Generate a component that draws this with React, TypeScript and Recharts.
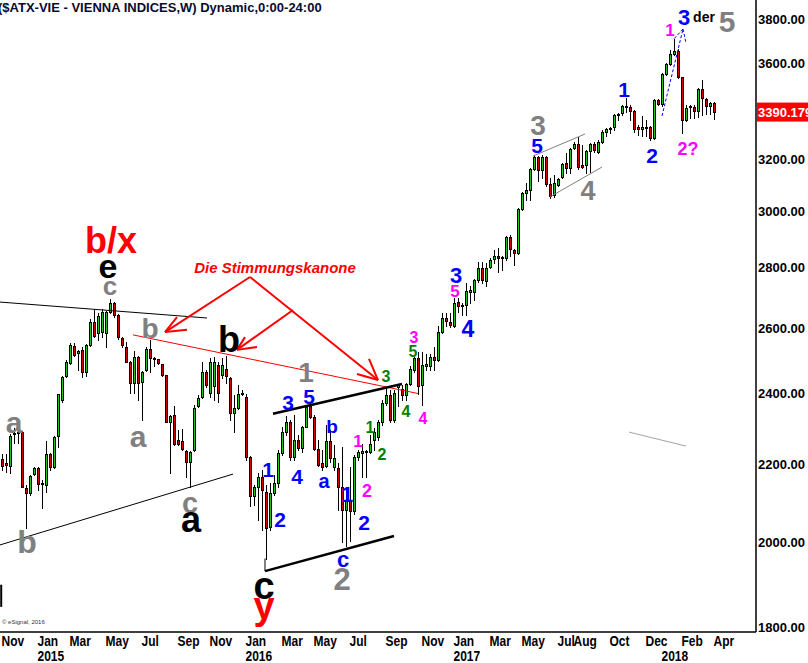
import React from 'react';
import { ComposedChart, Bar, XAxis, YAxis, ReferenceLine, ReferenceDot } from 'recharts';

// weekly candles, Nov 2014 .. Apr 2018
const opens = [
  2215, 2204, 2196, 2284, 2288, 2288, 2137, 2124, 2175, 2190,
  2148, 2145, 2228, 2194, 2278, 2381, 2452, 2492, 2544, 2522,
  2532, 2464, 2547, 2621, 2585, 2589, 2585, 2653, 2683, 2643,
  2569, 2541, 2495, 2431, 2510, 2434, 2470, 2535, 2507, 2504,
  2489, 2455, 2318, 2338, 2267, 2264, 2236, 2207, 2239, 2364,
  2390, 2464, 2402, 2422, 2486, 2455, 2473, 2446, 2343, 2358,
  2398, 2390, 2220, 2117, 2140, 2166, 2127, 2037, 2124, 2150,
  2231, 2288, 2318, 2220, 2267, 2245, 2302, 2364, 2332, 2242,
  2204, 2196, 2264, 2194, 2190, 2140, 2080, 2106, 2077, 2220,
  2231, 2234, 2234, 2267, 2276, 2318, 2372, 2396, 2323, 2420,
  2413, 2396, 2428, 2470, 2507, 2425, 2483, 2483, 2510, 2501,
  2589, 2633, 2621, 2608, 2686, 2672, 2676, 2720, 2720, 2759,
  2800, 2755, 2803, 2831, 2841, 2834, 2834, 2909, 2862, 2852,
  3010, 3070, 3081, 3162, 3209, 3158, 3209, 3104, 3062, 3100,
  3131, 3185, 3166, 3244, 3260, 3177, 3177, 3232, 3260, 3228,
  3268, 3308, 3322, 3328, 3380, 3386, 3410, 3412, 3395, 3328,
  3320, 3326, 3328, 3284, 3441, 3424, 3552, 3596, 3640, 3654,
  3539, 3357, 3410, 3412, 3395, 3488, 3445, 3416, 3428,
];
const highs = [
  2229, 2229, 2284, 2300, 2295, 2292, 2145, 2172, 2193, 2193,
  2158, 2264, 2231, 2278, 2400, 2452, 2501, 2553, 2553, 2532,
  2541, 2550, 2630, 2662, 2649, 2662, 2656, 2696, 2686, 2646,
  2573, 2557, 2498, 2528, 2512, 2467, 2541, 2563, 2509, 2505,
  2490, 2456, 2338, 2364, 2295, 2298, 2239, 2236, 2367, 2396,
  2495, 2470, 2507, 2510, 2495, 2507, 2513, 2448, 2396, 2425,
  2410, 2400, 2222, 2145, 2177, 2185, 2145, 2150, 2172, 2239,
  2302, 2335, 2323, 2338, 2281, 2306, 2367, 2372, 2338, 2267,
  2239, 2309, 2295, 2253, 2204, 2247, 2140, 2194, 2226, 2239,
  2256, 2239, 2281, 2300, 2323, 2381, 2419, 2410, 2410, 2428,
  2425, 2431, 2482, 2510, 2525, 2525, 2519, 2519, 2541, 2608,
  2649, 2649, 2649, 2700, 2700, 2683, 2748, 2737, 2762, 2820,
  2820, 2817, 2834, 2862, 2869, 2841, 2912, 2916, 2864, 3014,
  3074, 3108, 3166, 3216, 3212, 3216, 3212, 3127, 3138, 3127,
  3185, 3224, 3244, 3268, 3288, 3256, 3236, 3262, 3268, 3276,
  3316, 3324, 3328, 3382, 3386, 3420, 3449, 3420, 3399, 3336,
  3374, 3357, 3332, 3445, 3445, 3556, 3601, 3658, 3708, 3663,
  3540, 3420, 3420, 3420, 3492, 3526, 3449, 3432, 3432,
];
const lows = [
  2185, 2180, 2177, 2259, 2259, 2140, 2035, 2120, 2172, 2132,
  2085, 2127, 2185, 2190, 2248, 2375, 2449, 2489, 2513, 2470,
  2449, 2452, 2544, 2573, 2563, 2573, 2541, 2649, 2637, 2566,
  2541, 2495, 2402, 2402, 2381, 2323, 2467, 2464, 2482, 2490,
  2452, 2318, 2177, 2253, 2253, 2239, 2166, 2140, 2236, 2361,
  2387, 2419, 2390, 2381, 2375, 2446, 2431, 2323, 2289, 2355,
  2396, 2212, 2090, 2093, 2055, 2030, 1958, 2030, 2119, 2140,
  2226, 2281, 2212, 2212, 2239, 2234, 2302, 2329, 2239, 2196,
  2185, 2194, 2207, 2185, 2080, 2000, 1990, 2002, 2070, 2212,
  2166, 2166, 2231, 2239, 2267, 2309, 2367, 2318, 2318, 2364,
  2381, 2381, 2425, 2465, 2400, 2367, 2470, 2470, 2470, 2498,
  2585, 2608, 2605, 2605, 2653, 2643, 2643, 2683, 2692, 2752,
  2748, 2738, 2800, 2817, 2786, 2793, 2827, 2841, 2810, 2848,
  3006, 3043, 3043, 3158, 3115, 3127, 3096, 3051, 3055, 3096,
  3127, 3146, 3146, 3240, 3162, 3166, 3146, 3150, 3228, 3224,
  3264, 3292, 3304, 3316, 3357, 3378, 3390, 3357, 3308, 3296,
  3292, 3292, 3276, 3280, 3420, 3416, 3548, 3592, 3636, 3535,
  3304, 3353, 3365, 3365, 3370, 3378, 3382, 3382, 3361,
];
const closes = [
  2196, 2199, 2278, 2286, 2290, 2140, 2124, 2169, 2190, 2148,
  2150, 2228, 2194, 2276, 2399, 2449, 2495, 2547, 2516, 2528,
  2464, 2547, 2621, 2576, 2640, 2653, 2653, 2683, 2643, 2573,
  2547, 2495, 2431, 2510, 2431, 2464, 2535, 2507, 2505, 2492,
  2455, 2318, 2335, 2256, 2256, 2242, 2207, 2234, 2358, 2387,
  2464, 2425, 2495, 2495, 2402, 2486, 2452, 2343, 2358, 2400,
  2402, 2220, 2117, 2140, 2166, 2132, 2035, 2124, 2150, 2231,
  2288, 2318, 2220, 2267, 2245, 2302, 2361, 2332, 2242, 2199,
  2194, 2264, 2217, 2217, 2140, 2080, 2106, 2077, 2220, 2234,
  2236, 2236, 2256, 2288, 2318, 2372, 2396, 2323, 2402, 2425,
  2396, 2428, 2473, 2507, 2422, 2486, 2489, 2510, 2501, 2589,
  2633, 2624, 2611, 2683, 2672, 2676, 2722, 2725, 2759, 2800,
  2759, 2800, 2827, 2841, 2834, 2836, 2909, 2866, 2852, 3010,
  3070, 3081, 3162, 3209, 3158, 3209, 3104, 3058, 3108, 3123,
  3181, 3166, 3240, 3260, 3170, 3170, 3232, 3260, 3236, 3268,
  3308, 3320, 3326, 3378, 3384, 3416, 3414, 3395, 3320, 3320,
  3328, 3330, 3284, 3441, 3424, 3552, 3596, 3640, 3654, 3539,
  3357, 3407, 3414, 3395, 3488, 3449, 3416, 3428, 3390.179,
];

const monthTicks = [0, 9, 17, 26, 35, 44, 52, 61, 70, 78, 87, 96, 105, 113, 122, 130, 139, 143, 152, 161, 170, 178];
const monthNames = ['Nov', 'Jan', 'Mar', 'May', 'Jul', 'Sep', 'Nov', 'Jan', 'Mar', 'May', 'Jul', 'Sep', 'Nov', 'Jan', 'Mar', 'May', 'Jul', 'Aug', 'Oct', 'Dec', 'Feb', 'Apr'];
const yearTicks = [9, 61, 113, 165];
const yearNames = ['2015', '2016', '2017', '2018'];
const priceTicks = [1800, 2000, 2200, 2400, 2600, 2800, 3000, 3200, 3600, 3800];
const lastPrice = 3390.179;

const SLOTS = 189; // weeks shown on the time axis (incl. empty space on the right)

const RED = '#ff0000';
const BLUE = '#0000ff';
const PINK = '#ff00ff';
const GRAY = '#808080';
const GREEN = '#008000';
const BLACK = '#000000';
const FONT = '"Liberation Sans", Arial, sans-serif';

// wave labels: text, week, price (baseline), colour, size
const waveLabels: [string, number, number, string, number][] = [
  ['b/x', 27.25, 2852, RED, 36],
  ['e', 26.5, 2766, BLACK, 34],
  ['c', 27, 2709, GRAY, 26],
  ['b', 37, 2568, GRAY, 28],
  ['b', 56.75, 2525, BLACK, 36],
  ['a', 3, 2287, GRAY, 30],
  ['a', 34, 2248, GRAY, 30],
  ['b', 6.25, 1974, GRAY, 32],
  ['c', 47, 2073, GRAY, 29],
  ['a', 47.25, 2025, BLACK, 36],
  ['c', 65.5, 1865, BLACK, 38],
  ['y', 65.5, 1820, RED, 38],
  ['1', 76, 2434, GRAY, 28],
  ['2', 85, 1886, GRAY, 31],
  ['c', 85.25, 1940, BLUE, 22],
  ['3', 71.5, 2352, BLUE, 21],
  ['5', 76.75, 2370, BLUE, 21],
  ['b', 82.5, 2287, BLUE, 19],
  ['4', 73.75, 2148, BLUE, 21],
  ['a', 80.5, 2137, BLUE, 20],
  ['1', 66.5, 2166, BLUE, 21],
  ['2', 69.5, 2037, BLUE, 21],
  ['1', 86.25, 2101, BLUE, 22],
  ['2', 90.5, 2030, BLUE, 21],
  ['1', 89, 2248, PINK, 17],
  ['1', 92, 2287, GREEN, 16],
  ['2', 95, 2212, GREEN, 16],
  ['2', 91.25, 2114, PINK, 18],
  ['3', 96, 2434, GREEN, 16],
  ['5', 102.75, 2510, GREEN, 16],
  ['3', 103, 2553, PINK, 16],
  ['4', 101, 2332, GREEN, 16],
  ['4', 105.25, 2312, PINK, 16],
  ['3', 113.5, 2749, BLUE, 22],
  ['5', 113.25, 2702, PINK, 17],
  ['4', 116.5, 2572, BLUE, 23],
  ['3', 134, 3296, GRAY, 28],
  ['5', 133.75, 3224, BLUE, 21],
  ['4', 146.5, 3043, GRAY, 27],
  ['1', 155.5, 3453, BLUE, 21],
  ['2', 162.5, 3185, BLUE, 21],
  ['1', 167, 3722, PINK, 17],
  ['3', 170.5, 3772, BLUE, 22],
  ['der', 175.5, 3786, BLACK, 14],
  ['5', 181.25, 3740, GRAY, 30],
  ['2?', 171.5, 3216, PINK, 18],
];

// drawn lines: [week, price] -> [week, price], colour, width, dash
const drawings: [number, number, number, number, string, number, string?][] = [
  [-0.5, 2685, 51.25, 2633, BLACK, 1],
  [-0.5, 1993, 57.75, 2174, BLACK, 1],
  [32.75, 2579, 104, 2400, RED, 1],
  [67.75, 2341, 100, 2428, BLACK, 2.5],
  [65.75, 1960, 65.75, 1930, BLACK, 1],
  [65.75, 1930, 98, 2015, BLACK, 2.5],
  [132.75, 3212, 145.75, 3300, GRAY, 1],
  [137, 3055, 150, 3169, GRAY, 1],
  [156.75, 2289, 171, 2250, '#a8a0b0', 1],
  [165, 3374, 170.25, 3754, BLUE, 1, '3 2'],
  [170.25, 3754, 167.75, 3704, BLUE, 1, '3 2'],
  [170.25, 3754, 171, 3690, BLUE, 1, '3 2'],
  [62, 2769, 40.75, 2588, RED, 2],
  [40.75, 2588, 43.75, 2636, RED, 2],
  [40.75, 2588, 46.25, 2595, RED, 2],
  [62, 2769, 94, 2440, RED, 2],
  [72.75, 2659, 58.75, 2532, RED, 2],
  [58.75, 2532, 60.75, 2572, RED, 2],
  [58.75, 2532, 63.75, 2541, RED, 2],
  [94, 2440, 91.75, 2504, RED, 2],
  [94, 2440, 88.75, 2458, RED, 2],
  [-0.2, 1898, -0.2, 1847, BLACK, 2],
];

const rows = Array.from({ length: SLOTS }, (_, i) =>
  i < opens.length
    ? { i, o: opens[i], h: highs[i], l: lows[i], c: closes[i], range: [lows[i], highs[i]] }
    : { i, range: null }
);

const Candle = (props: any) => {
  const { x, y, width, height, payload } = props;
  if (!payload || payload.h == null || height == null) return null;
  const top = Math.min(y, y + height);
  const bot = Math.max(y, y + height);
  const lh = Math.log(payload.h);
  const span = lh - Math.log(payload.l) || 1;
  const py = (v: number) => top + ((lh - Math.log(v)) / span) * (bot - top);
  const left = Math.floor(x + width / 2 - 1.5);
  const b1 = Math.round(Math.min(py(payload.o), py(payload.c)));
  const b2 = Math.round(Math.max(py(payload.o), py(payload.c)));
  const up = payload.c >= payload.o;
  return (
    <g>
      <line x1={left + 1.5} x2={left + 1.5} y1={Math.round(top)} y2={Math.round(bot) + 1} stroke="#000" strokeWidth={1} />
      <rect x={left + 0.5} y={b1 + 0.5} width={2} height={Math.max(b2 - b1, 1)} fill={up ? '#22c322' : '#d00000'} stroke="#000" strokeWidth={1} />
    </g>
  );
};

// condensed bold labels (no narrow font installed, so squeeze horizontally)
const NarrowText = ({ x, y, children }: any) => (
  <text transform={`translate(${x},${y}) scale(0.8,1)`} textAnchor="start" fontFamily={FONT} fontWeight="bold" fontSize={15} fill="#000">
    {children}
  </text>
);

const TimeTick = (props: any) => {
  const { x, y, payload } = props;
  const m = monthTicks.indexOf(payload.value);
  const yr = yearTicks.indexOf(payload.value);
  return (
    <g>
      {m >= 0 && <NarrowText x={x - 0.5} y={y + 14}>{monthNames[m]}</NarrowText>}
      {yr >= 0 && <NarrowText x={x - 0.5} y={y + 29}>{yearNames[yr]}</NarrowText>}
    </g>
  );
};

const PriceTick = (props: any) => (
  <text x={props.x} y={props.y} dy={4.5} textAnchor="start" fontFamily={FONT} fontWeight="bold" fontSize={13} fill="#000">
    {Number(props.payload.value).toFixed(2)}
  </text>
);

const allTicks = Array.from(new Set([...monthTicks, ...yearTicks])).sort((a, b) => a - b);

export default function App() {
  return (
    <div style={{ position: 'absolute', left: 0, top: 0, width: 808, height: 663, background: '#fff', overflow: 'hidden' }}>
      <ComposedChart width={808} height={663} data={rows} margin={{ top: 0, right: 0, bottom: 0, left: 0 }} barCategoryGap={0}>
        <XAxis
          xAxisId="c"
          dataKey="i"
          type="category"
          height={31}
          ticks={allTicks}
          interval={0}
          tickLine={false}
          tickSize={0}
          tickMargin={0}
          axisLine={{ stroke: '#000', strokeWidth: 1.5 }}
          tick={TimeTick}
        />
        <XAxis xAxisId="n" dataKey="i" type="number" domain={[-0.5, SLOTS - 0.5]} allowDataOverflow hide />
        <YAxis
          orientation="right"
          scale="log"
          domain={[1791, 3890]}
          allowDataOverflow
          ticks={priceTicks}
          interval={0}
          width={52}
          tickLine={false}
          tickSize={0}
          tickMargin={2}
          axisLine={{ stroke: '#000', strokeWidth: 1.5 }}
          tick={PriceTick}
        />
        <Bar xAxisId="c" dataKey="range" barSize={3} isAnimationActive={false} shape={(p: any) => <Candle {...p} />} />
        {drawings.map((d, k) => (
          <ReferenceLine
            key={'l' + k}
            xAxisId="n"
            segment={[{ x: d[0], y: d[1] }, { x: d[2], y: d[3] }]}
            stroke={d[4]}
            strokeWidth={d[5]}
            strokeDasharray={d[6]}
            ifOverflow="visible"
          />
        ))}
        {waveLabels.map((w, k) => (
          <ReferenceDot
            key={'t' + k}
            xAxisId="n"
            x={w[1]}
            y={w[2]}
            r={0}
            ifOverflow="visible"
            shape={(p: any) => (
              <text x={p.cx} y={p.cy} textAnchor="middle" fill={w[3]} fontSize={w[4]} fontWeight="bold" fontFamily={FONT}>
                {w[0]}
              </text>
            )}
          />
        ))}
        <ReferenceDot
          xAxisId="n"
          x={68.25}
          y={2782}
          r={0}
          ifOverflow="visible"
          shape={(p: any) => (
            <text x={p.cx} y={p.cy} textAnchor="middle" fill={RED} fontSize={15} fontWeight="bold" fontStyle="italic" fontFamily={FONT}>
              Die Stimmungskanone
            </text>
          )}
        />
        <ReferenceDot
          xAxisId="n"
          x={SLOTS - 0.5}
          y={lastPrice}
          r={0}
          ifOverflow="visible"
          shape={(p: any) => (
            <g>
              <rect x={p.cx + 1} y={p.cy - 9.5} width={52} height={19} fill="#ff0000" />
              <text x={p.cx + 2} y={p.cy + 4.5} fill="#fff" fontSize={13} fontWeight="bold" fontFamily={FONT}>
                {lastPrice.toFixed(3)}
              </text>
            </g>
          )}
        />
      </ComposedChart>
      <div style={{ position: 'absolute', left: -2, top: 0, font: `bold 13px ${FONT}`, lineHeight: '15px', color: '#0a0a30', whiteSpace: 'nowrap' }}>
        ($ATX-VIE - VIENNA INDICES,W) Dynamic,0:00-24:00
      </div>
      <div style={{ position: 'absolute', left: 2, top: 618, font: `6px ${FONT}`, lineHeight: '8px', color: '#333', whiteSpace: 'nowrap' }}>
        © eSignal, 2016
      </div>
    </div>
  );
}
